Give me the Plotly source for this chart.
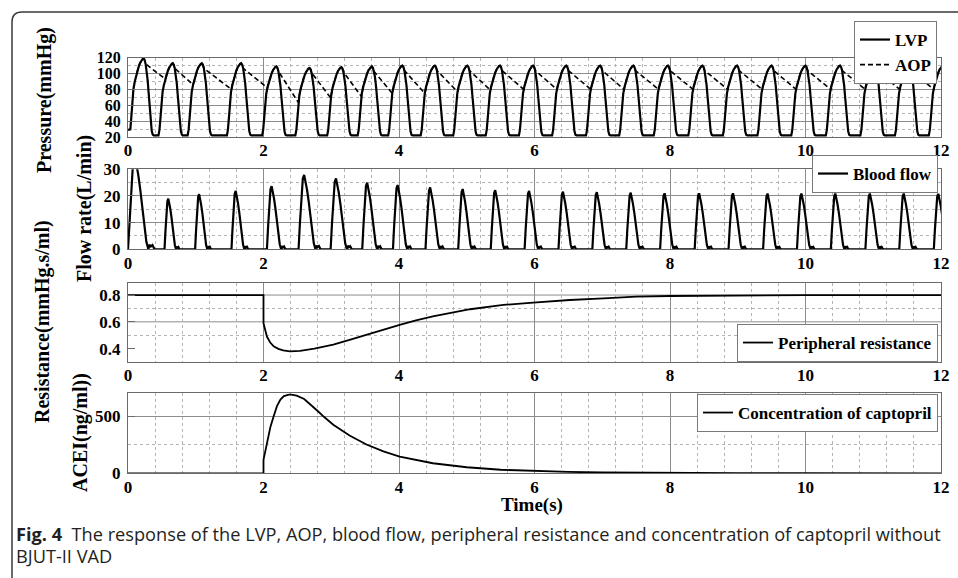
import numpy as np
import plotly.graph_objects as go

# ---------------- data ----------------
x_tick_vals = [0, 2, 4, 6, 8, 10, 12]

# Panel 1 - left ventricular pressure (LVP) and aortic pressure (AOP), mmHg
lvp_peak_t = [0.23, 0.66, 1.09, 1.67, 2.19, 2.68, 3.15, 3.60, 4.05, 4.53, 5.01,
              5.49, 5.98, 6.47, 6.97, 7.46, 7.97, 8.48, 8.99, 9.50, 10.00,
              10.51, 11.02, 11.53, 12.03]
lvp_peak = [119, 113, 113, 113, 109, 107, 108, 109, 110, 110, 110,
            110, 110, 110, 110, 110, 110, 110, 110, 110, 110,
            110, 110, 110, 110]
lvp_trough = 22
lvp_start = 29
aop_min = [100, 93, 86, 80, 82, 63, 69, 71, 75, 75, 77,
           79, 80, 80, 80, 80, 80, 80, 80, 80, 80,
           80, 80, 80, 80]
# one-beat LVP shape: time from peak (s), fraction of pulse height
lvp_shape_dt = [-0.21, -0.195, -0.18, -0.165, -0.15, -0.13, -0.11, -0.09, -0.07, -0.05,
                -0.03, -0.015, 0.0, 0.015, 0.03, 0.045, 0.06, 0.075, 0.09, 0.105,
                0.12, 0.135, 0.15]
lvp_shape_frac = [0.0, 0.08, 0.25, 0.45, 0.60, 0.70, 0.78, 0.85, 0.90, 0.945,
                  0.975, 0.993, 1.0, 0.98, 0.93, 0.85, 0.72, 0.55, 0.36, 0.18,
                  0.06, 0.01, 0.0]
aop_split_dt = 0.03

# Panel 2 - blood flow (L/min)
flow_peak_t = [0.10, 0.595, 1.05, 1.59, 2.12, 2.60, 3.07, 3.53, 3.98, 4.46, 4.94,
               5.42, 5.92, 6.42, 6.92, 7.42, 7.92, 8.43, 8.93, 9.44, 9.94,
               10.44, 10.95, 11.45, 11.96]
flow_peak = [35, 19.0, 20.7, 21.9, 23.7, 27.9, 26.6, 25.0, 24.1, 23.2, 22.6,
             22.2, 21.9, 21.6, 21.4, 21.2, 21.0, 21.0, 21.0, 20.9, 20.9,
             20.9, 20.9, 20.9, 20.8]
flow_width = [0.30, 0.17, 0.18, 0.19, 0.21, 0.25, 0.24, 0.22, 0.21, 0.21, 0.20,
              0.20, 0.20, 0.20, 0.20, 0.20, 0.20, 0.20, 0.20, 0.20, 0.20,
              0.20, 0.20, 0.20, 0.20]
# one-beat flow shape: fraction of pulse duration, fraction of peak
flow_shape_u = [0.0, 0.08, 0.16, 0.25, 0.33, 0.40, 0.50, 0.60, 0.70, 0.80, 0.90,
                1.0, 1.05, 1.12, 1.2, 1.3]
flow_shape_frac = [0.0, 0.35, 0.72, 0.95, 1.0, 0.93, 0.80, 0.64, 0.45, 0.25, 0.08,
                   0.0, 0.05, 0.03, 0.045, 0.0]

# Panel 3 - peripheral resistance (mmHg.s/ml)
res_t = [0, 2.0, 2.0, 2.02, 2.05, 2.10, 2.15, 2.22, 2.29, 2.39, 2.54, 2.75, 3.03,
         3.27, 3.52, 3.76, 4.01, 4.25, 4.50, 5.05, 5.54, 5.98, 6.52, 7.02, 7.50,
         8.0, 9.0, 10.0, 12.0]
res_v = [0.8, 0.8, 0.59, 0.54, 0.49, 0.445, 0.417, 0.398, 0.387, 0.380, 0.383,
         0.400, 0.430, 0.465, 0.504, 0.540, 0.578, 0.610, 0.640, 0.694, 0.726,
         0.743, 0.763, 0.775, 0.788, 0.793, 0.797, 0.80, 0.80]

# Panel 4 - captopril concentration (ng/ml)
ace_t = [0, 2.0, 2.0, 2.05, 2.10, 2.15, 2.20, 2.25, 2.30, 2.39, 2.49, 2.60, 2.70,
         2.80, 2.90, 3.03, 3.27, 3.52, 3.77, 4.01, 4.50, 5.0, 5.5, 6.0, 6.5, 7.0,
         8.0, 9.0, 10.0, 12.0]
ace_v = [0, 0, 117, 260, 400, 500, 590, 645, 675, 690, 680, 650, 600, 545, 490,
         425, 330, 252, 192, 146, 88, 53, 31, 20, 12, 7, 2.5, 1, 0.5, 0]

# ---------------- build the waveforms from the beat readings ----------------
lvp_t, lvp_v = [0.0], [lvp_start]
for i, (pt, pk) in enumerate(zip(lvp_peak_t, lvp_peak)):
    for dt, f in zip(lvp_shape_dt, lvp_shape_frac):
        v = lvp_trough + f * (pk - lvp_trough)
        if i == 0 and dt < 0 and v < lvp_start:
            continue
        lvp_t.append(pt + dt)
        lvp_v.append(v)

ipk = lvp_shape_frac.index(1.0)
rise_dt = lvp_shape_dt[:ipk + 1]
rise_f = lvp_shape_frac[:ipk + 1]
aop_t, aop_v = [], []
for i, (pt, pk) in enumerate(zip(lvp_peak_t, lvp_peak)):
    fc = (aop_min[i] - lvp_trough) / (pk - lvp_trough)
    dc = float(np.interp(fc, rise_f, rise_dt))
    aop_t.append(pt + dc)
    aop_v.append(aop_min[i])
    for dt, f in zip(lvp_shape_dt, lvp_shape_frac):
        if dc < dt <= aop_split_dt:
            aop_t.append(pt + dt)
            aop_v.append(lvp_trough + f * (pk - lvp_trough))

u_peak = flow_shape_u[flow_shape_frac.index(1.0)]
flow_t, flow_v = [0.0], [0.0]
for pt, pk, w in zip(flow_peak_t, flow_peak, flow_width):
    onset = pt - u_peak * w
    for u, f in zip(flow_shape_u, flow_shape_frac):
        flow_t.append(onset + u * w)
        flow_v.append(f * pk)
flow_t.append(12.0)
flow_v.append(0.0)

# ---------------- figure ----------------
W, H = 958, 578
def px(x):
    return x / W
def py(y):
    return 1 - y / H

serif = "Liberation Serif"
tick_font = dict(family=serif, size=17, color="black", weight="bold")
ytick_font_p1 = dict(family=serif, size=16, color="black", weight="bold")
leg_font = dict(family=serif, size=17, color="black", weight="bold")

fig = go.Figure()
fig.add_trace(go.Scatter(x=aop_t, y=aop_v, mode="lines", name="AOP",
                         line=dict(color="black", width=1.6, dash="5px,3px"),
                         xaxis="x", yaxis="y", legend="legend", legendrank=2))
fig.add_trace(go.Scatter(x=lvp_t, y=lvp_v, mode="lines", name="LVP",
                         line=dict(color="black", width=2.2),
                         xaxis="x", yaxis="y", legend="legend", legendrank=1))
fig.add_trace(go.Scatter(x=flow_t, y=flow_v, mode="lines", name="Blood flow",
                         line=dict(color="black", width=2.2),
                         xaxis="x2", yaxis="y2", legend="legend2"))
fig.add_trace(go.Scatter(x=res_t, y=res_v, mode="lines", name="Peripheral resistance",
                         line=dict(color="black", width=1.8),
                         xaxis="x3", yaxis="y3", legend="legend3"))
fig.add_trace(go.Scatter(x=ace_t, y=ace_v, mode="lines", name="Concentration of captopril",
                         line=dict(color="black", width=1.8),
                         xaxis="x4", yaxis="y4", legend="legend4"))

panels = [  # (top px, bottom px)
    (57.7, 137.0),
    (169.3, 249.3),
    (283.0, 362.0),
    (393.3, 473.3),
]
axis_line = "#6a6a6a"
major_grid = "#8c8c8c"
minor_grid = "#b4b4b4"

y_specs = [
    dict(range=[20, 120], tickvals=[20, 40, 60, 80, 100, 120],
         minor=dict(tickvals=[30, 50, 70, 90, 110])),
    dict(range=[0, 30], tickvals=[0, 10, 20, 30],
         minor=dict(tickvals=[5, 15, 25])),
    dict(range=[0.3, 0.89], tickvals=[0.4, 0.6, 0.8],
         minor=dict(tickvals=[0.5, 0.7])),
    dict(range=[0, 700], tickvals=[0, 500],
         minor=dict(tickvals=[250])),
]

layout = dict(
    width=W, height=H, autosize=False,
    margin=dict(l=0, r=0, t=0, b=0, pad=0, autoexpand=False),
    paper_bgcolor="white", plot_bgcolor="white",
    showlegend=True,
)
for k, ((top, bot), ys) in enumerate(zip(panels, y_specs)):
    sx = "" if k == 0 else str(k + 1)
    layout["xaxis" + sx] = dict(
        domain=[px(128), px(941)], anchor="y" + sx, range=[0, 12],
        tickvals=x_tick_vals, tickfont=tick_font, automargin=False,
        showline=True, mirror=True, linecolor=axis_line, linewidth=1,
        showgrid=True, gridcolor=major_grid, gridwidth=1,
        ticks="", zeroline=False,
        minor=dict(dtick=0.4, tick0=0, showgrid=True, griddash="dot",
                   gridcolor=minor_grid, gridwidth=1, ticks=""),
        ticklabelstandoff=-2,
    )
    minor = dict(showgrid=True, griddash="dot", gridcolor=minor_grid,
                 gridwidth=1, ticks="", **ys["minor"])
    layout["yaxis" + sx] = dict(
        domain=[py(bot), py(top)], anchor="x" + sx, range=ys["range"],
        tickvals=ys["tickvals"], tickfont=(ytick_font_p1 if k == 0 else tick_font),
        automargin=False,
        showline=True, mirror=True, linecolor=axis_line, linewidth=1,
        showgrid=(k != 2), gridcolor=major_grid, gridwidth=1,
        ticks="inside", ticklen=7, tickcolor=axis_line,
        zeroline=False, minor=minor, ticklabelstandoff=3,
    )

legend_common = dict(bgcolor="white", bordercolor="#7a7a7a", borderwidth=1,
                     font=leg_font, xanchor="right", yanchor="top",
                     itemwidth=30, tracegroupgap=0)
layout["legend"] = dict(x=px(937), y=py(21), **legend_common)
layout["legend2"] = dict(x=px(938), y=py(155), **legend_common)
layout["legend3"] = dict(x=px(938), y=py(324), **legend_common)
layout["legend4"] = dict(x=px(938), y=py(394), **legend_common)

fig.update_layout(**layout)

# solid grid lines of the resistance panel (MATLAB left out the 0.4 line)
for gv in [0.6, 0.8]:
    fig.add_shape(type="line", xref="x3 domain", yref="y3", x0=0, x1=1, y0=gv, y1=gv,
                  line=dict(color=major_grid, width=1), layer="below")

# axis titles
title_font = dict(family=serif, size=20, color="black", weight="bold")
for text, x, y in [("Pressure(mmHg)", 45, 100),
                   ("Flow rate(L/min)", 84, 209),
                   ("Resistance(mmHg.s/ml)", 42, 322),
                   ("ACEI(ng/ml))", 80, 433)]:
    fig.add_annotation(text=text, x=px(x), y=py(y), xref="paper", yref="paper",
                       textangle=-90, showarrow=False, font=title_font,
                       xanchor="center", yanchor="middle")
fig.add_annotation(text="Time(s)", x=px(532), y=py(505), xref="paper", yref="paper",
                   showarrow=False, font=dict(family=serif, size=19, color="black",
                                              weight="bold"),
                   xanchor="center", yanchor="middle")

# caption
cap_font = dict(family="Open Sans, Liberation Sans, sans-serif", size=18.2, color="#231f20")
fig.add_annotation(
    text="<b>Fig. 4</b>  The response of the LVP, AOP, blood flow, peripheral resistance "
         "and concentration of captopril without",
    x=px(14), y=py(534), xref="paper", yref="paper", showarrow=False,
    font=cap_font, xanchor="left", yanchor="middle")
fig.add_annotation(text="BJUT-II VAD", x=px(14), y=py(556), xref="paper", yref="paper",
                   showarrow=False, font=cap_font, xanchor="left", yanchor="middle")

# outer rounded frame of the figure box
fx0, fy0, r = 12, 12, 10
fig.add_shape(type="path", xref="paper", yref="paper",
              path=(f"M {px(fx0)},{py(H)} L {px(fx0)},{py(fy0 + r)} "
                    f"Q {px(fx0)},{py(fy0)} {px(fx0 + r)},{py(fy0)} L 1,{py(fy0)}"),
              line=dict(color="#3a3a3a", width=1.5))

fig.write_html("out.html",
               config={"displayModeBar": False},
               post_script="document.body.style.margin='0px';"
                           "document.body.style.overflow='hidden';")
